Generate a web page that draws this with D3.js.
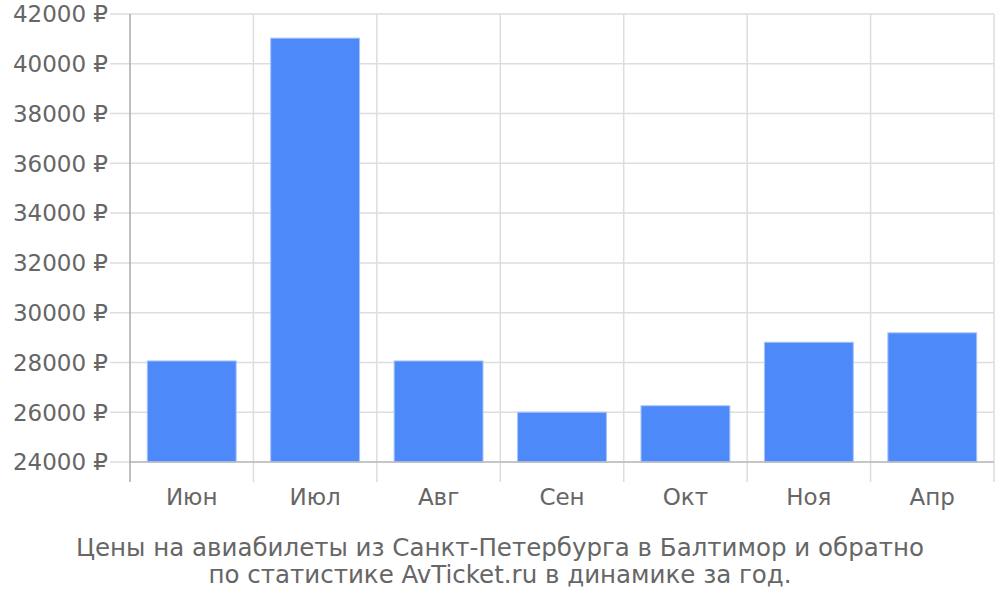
<!DOCTYPE html>
<html>
<head>
<meta charset="utf-8">
<script src="https://cdn.jsdelivr.net/npm/d3@7"></script>
<style>
  body { margin: 0; background: #fff; }
  svg text { font-family: "DejaVu Sans", sans-serif; fill: #666; }
</style>
</head>
<body>
<svg id="chart" width="1000" height="600"></svg>
<script>
  'use strict';
  var months = ['Июн', 'Июл', 'Авг', 'Сен', 'Окт', 'Ноя', 'Апр'];
  var prices = [28060, 41030, 28060, 26000, 26260, 28810, 29190];
  var yTicks = [24000, 26000, 28000, 30000, 32000, 34000, 36000, 38000, 40000, 42000];
  var titleLines = ['Цены на авиабилеты из Санкт-Петербурга в Балтимор и обратно',
    'по статистике AvTicket.ru в динамике за год.'];

  (function() {
    var svg = d3.select('#chart'),
      plotLeft = 130, plotRight = 994, plotTop = 14, plotBottom = 462, gridEnd = 482;

    var x = d3.scaleBand()
        .domain(months)
        .range([plotLeft, plotRight])
        .paddingInner(0.28)
        .paddingOuter(0.14);

    var y = d3.scaleLinear()
        .domain([24000, 42000])
        .range([plotBottom, plotTop]);

    var bounds = d3.range(1, months.length + 1).map(function(i) {
      return plotLeft + i * (plotRight - plotLeft) / months.length;
    });

    // horizontal grid + tick labels
    svg.append('g').selectAll('line')
        .data(yTicks)
      .enter().append('line')
        .attr('x1', 110).attr('x2', plotRight)
        .attr('y1', function(d) { return y(d); })
        .attr('y2', function(d) { return y(d); })
        .attr('stroke', '#ddd')
        .attr('stroke-width', 1.5);

    svg.append('g').selectAll('text')
        .data(yTicks)
      .enter().append('text')
        .attr('x', 108)
        .attr('y', function(d) { return y(d); })
        .attr('dy', '0.36em')
        .attr('text-anchor', 'end')
        .style('font-size', '23px')
        .text(function(d) { return d + ' ₽'; });

    // vertical grid at category boundaries
    svg.append('g').selectAll('line')
        .data(bounds)
      .enter().append('line')
        .attr('x1', function(d) { return d; })
        .attr('x2', function(d) { return d; })
        .attr('y1', plotTop).attr('y2', gridEnd)
        .attr('stroke', '#ddd')
        .attr('stroke-width', 1.5);

    // bars
    svg.append('g').selectAll('rect')
        .data(prices)
      .enter().append('rect')
        .attr('x', function(d, i) { return x(months[i]); })
        .attr('y', function(d) { return y(d); })
        .attr('width', x.bandwidth())
        .attr('height', function(d) { return y(24000) - y(d); })
        .attr('fill', '#4d89f9')
        .attr('stroke', '#a6c4fb')
        .attr('stroke-width', 1);

    // axis lines
    svg.append('line')
        .attr('x1', plotLeft).attr('x2', plotRight)
        .attr('y1', plotBottom).attr('y2', plotBottom)
        .attr('stroke', '#bbb').attr('stroke-width', 1.5);
    svg.append('line')
        .attr('x1', plotLeft).attr('x2', plotLeft)
        .attr('y1', plotTop).attr('y2', gridEnd)
        .attr('stroke', '#aaa').attr('stroke-width', 1.5);

    // category labels
    svg.append('g').selectAll('text')
        .data(months)
      .enter().append('text')
        .attr('x', function(d) { return x(d) + x.bandwidth() / 2; })
        .attr('y', 505)
        .attr('text-anchor', 'middle')
        .style('font-size', '23px')
        .text(function(d) { return d; });

    // title
    svg.append('g').selectAll('text')
        .data(titleLines)
      .enter().append('text')
        .attr('x', 500)
        .attr('y', function(d, i) { return 556 + i * 27; })
        .attr('text-anchor', 'middle')
        .style('font-size', '24.5px')
        .text(function(d) { return d; });
  }());
</script>
</body>
</html>
